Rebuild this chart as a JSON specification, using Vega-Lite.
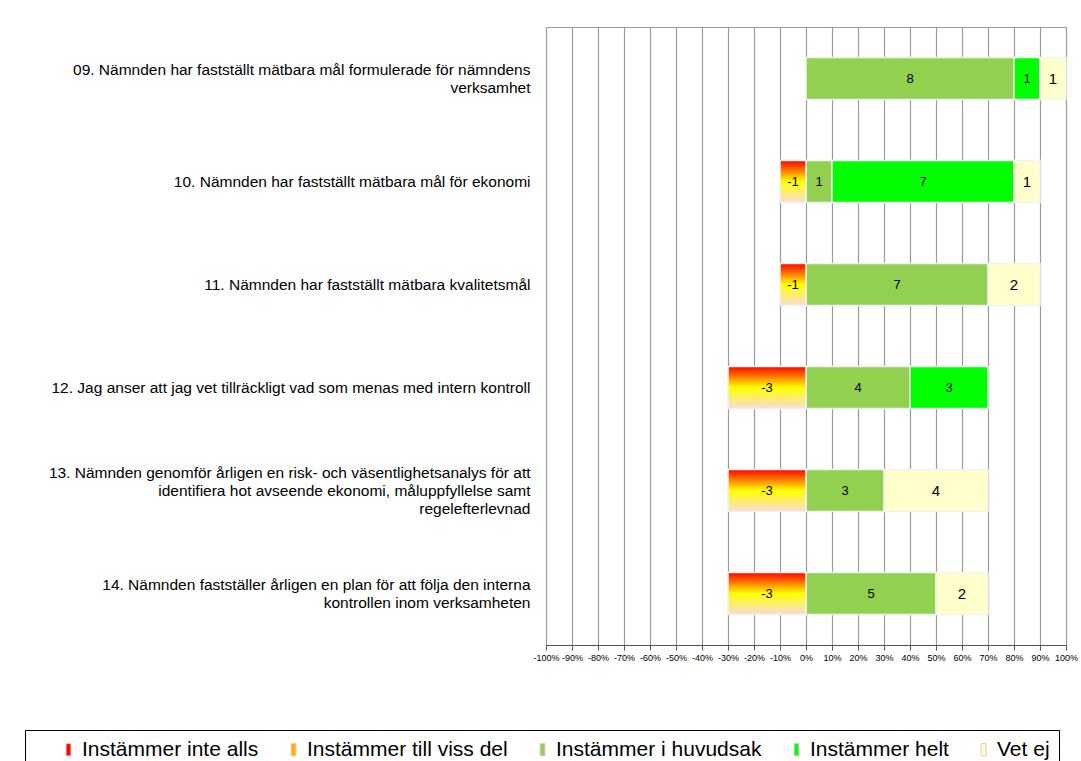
{
  "$schema": "https://vega.github.io/schema/vega-lite/v6.json",
  "width": 520,
  "height": 618,
  "autosize": {"type": "none"},
  "padding": {"left": 546, "top": 27, "right": 15, "bottom": 116},
  "background": "#ffffff",
  "config": {
    "font": "Liberation Sans",
    "view": {"stroke": "#999999", "strokeWidth": 1}
  },
  "data": {
    "values": [
      {"q": "09. Nämnden har fastställt mätbara mål formulerade för nämndens|verksamhet", "cat": "Instämmer i huvudsak", "n": "8", "pct": 80},
      {"q": "09. Nämnden har fastställt mätbara mål formulerade för nämndens|verksamhet", "cat": "Instämmer helt", "n": "1", "pct": 10},
      {"q": "09. Nämnden har fastställt mätbara mål formulerade för nämndens|verksamhet", "cat": "Vet ej", "n": "1", "pct": 10},
      {"q": "10. Nämnden har fastställt mätbara mål för ekonomi", "cat": "Instämmer till viss del", "n": "-1", "pct": -10},
      {"q": "10. Nämnden har fastställt mätbara mål för ekonomi", "cat": "Instämmer i huvudsak", "n": "1", "pct": 10},
      {"q": "10. Nämnden har fastställt mätbara mål för ekonomi", "cat": "Instämmer helt", "n": "7", "pct": 70},
      {"q": "10. Nämnden har fastställt mätbara mål för ekonomi", "cat": "Vet ej", "n": "1", "pct": 10},
      {"q": "11. Nämnden har fastställt mätbara kvalitetsmål", "cat": "Instämmer till viss del", "n": "-1", "pct": -10},
      {"q": "11. Nämnden har fastställt mätbara kvalitetsmål", "cat": "Instämmer i huvudsak", "n": "7", "pct": 70},
      {"q": "11. Nämnden har fastställt mätbara kvalitetsmål", "cat": "Vet ej", "n": "2", "pct": 20},
      {"q": "12. Jag anser att jag vet tillräckligt vad som menas med intern kontroll", "cat": "Instämmer till viss del", "n": "-3", "pct": -30},
      {"q": "12. Jag anser att jag vet tillräckligt vad som menas med intern kontroll", "cat": "Instämmer i huvudsak", "n": "4", "pct": 40},
      {"q": "12. Jag anser att jag vet tillräckligt vad som menas med intern kontroll", "cat": "Instämmer helt", "n": "3", "pct": 30},
      {"q": "13. Nämnden genomför årligen en risk- och väsentlighetsanalys för att|identifiera hot avseende ekonomi, måluppfyllelse samt|regelefterlevnad", "cat": "Instämmer till viss del", "n": "-3", "pct": -30},
      {"q": "13. Nämnden genomför årligen en risk- och väsentlighetsanalys för att|identifiera hot avseende ekonomi, måluppfyllelse samt|regelefterlevnad", "cat": "Instämmer i huvudsak", "n": "3", "pct": 30},
      {"q": "13. Nämnden genomför årligen en risk- och väsentlighetsanalys för att|identifiera hot avseende ekonomi, måluppfyllelse samt|regelefterlevnad", "cat": "Vet ej", "n": "4", "pct": 40},
      {"q": "14. Nämnden fastställer årligen en plan för att följa den interna|kontrollen inom verksamheten", "cat": "Instämmer till viss del", "n": "-3", "pct": -30},
      {"q": "14. Nämnden fastställer årligen en plan för att följa den interna|kontrollen inom verksamheten", "cat": "Instämmer i huvudsak", "n": "5", "pct": 50},
      {"q": "14. Nämnden fastställer årligen en plan för att följa den interna|kontrollen inom verksamheten", "cat": "Vet ej", "n": "2", "pct": 20}
    ]
  },
  "transform": [
    {"calculate": "indexof(['Instämmer inte alls','Instämmer till viss del','Instämmer i huvudsak','Instämmer helt','Vet ej'], datum.cat)", "as": "ord"},
    {"stack": "pct", "groupby": ["q"], "sort": [{"field": "ord", "order": "ascending"}], "as": ["x0", "x1"], "offset": "zero"},
    {"calculate": "(datum.x0 + datum.x1) / 2", "as": "xm"}
  ],
  "resolve": {"axis": {"x": "independent"}},
  "encoding": {
    "y": {
      "field": "q",
      "type": "nominal",
      "sort": null,
      "scale": {"paddingInner": 0.59, "paddingOuter": 0.295},
      "axis": {
        "title": null,
        "domain": false,
        "ticks": false,
        "grid": false,
        "labelExpr": "split(datum.label, '|')",
        "labelAlign": "right",
        "labelBaseline": "middle",
        "labelPadding": 16,
        "labelFontSize": 15.5,
        "labelLineHeight": 18,
        "labelColor": "#000000",
        "labelLimit": 600,
        "labelOffset": {
          "condition": [
            {"test": "length(split(datum.label, '|')) == 3", "value": -18},
            {"test": "length(split(datum.label, '|')) == 2", "value": -9}
          ],
          "value": 0
        }
      }
    }
  },
  "layer": [
    {
      "transform": [{"filter": "datum.cat != 'Instämmer till viss del'"}],
      "mark": {"type": "bar", "stroke": "#f2f2f2", "strokeWidth": 1.5},
      "encoding": {
        "x": {
          "field": "x0",
          "type": "quantitative",
          "scale": {"domain": [-100, 100], "nice": false, "zero": false},
          "axis": {
            "title": null,
            "values": [-100, -90, -80, -70, -60, -50, -40, -30, -20, -10, 0, 10, 20, 30, 40, 50, 60, 70, 80, 90, 100],
            "tickCount": 21,
            "labelExpr": "datum.value + '%'",
            "labelFontSize": 9,
            "labelColor": "#000000",
            "labelPadding": 3,
            "labelOverlap": false,
            "labelFlush": false,
            "labelBound": false,
            "tickSize": 5,
            "tickColor": "#555555",
            "domainColor": "#555555",
            "grid": true,
            "gridColor": "#9a9a9a",
            "gridWidth": 1.2
          }
        },
        "x2": {"field": "x1"},
        "color": {
          "field": "cat",
          "type": "nominal",
          "scale": {
            "domain": ["Instämmer inte alls", "Instämmer till viss del", "Instämmer i huvudsak", "Instämmer helt", "Vet ej"],
            "range": ["#FF0000", "#FFB000", "#92D050", "#00FF00", "#FFFFCC"]
          },
          "legend": {
            "orient": "none",
            "direction": "horizontal",
            "legendX": -521,
            "legendY": 703,
            "title": "\u00a0",
            "titleOrient": "left",
            "titlePadding": 24,
            "titleFontSize": 17,
            "strokeColor": "#000000",
            "fillColor": "#ffffff",
            "padding": 9,
            "symbolType": "M-0.4,-1H0.4V1H-0.4Z",
            "symbolSize": 150,
            "symbolStrokeColor": "#e8c8c8",
            "symbolStrokeWidth": 1,
            "labelFontSize": 21,
            "labelColor": "#000000",
            "labelOffset": 3,
            "columnPadding": 24,
            "labelLimit": 300
          }
        }
      }
    },
    {
      "transform": [{"filter": "datum.cat == 'Instämmer till viss del'"}],
      "mark": {
        "type": "bar",
        "stroke": "#f2f2f2",
        "strokeWidth": 1.5,
        "fill": {
          "gradient": "linear",
          "x1": 0, "y1": 0, "x2": 0, "y2": 1,
          "stops": [
            {"offset": 0, "color": "#FF0000"},
            {"offset": 0.5, "color": "#FFFF00"},
            {"offset": 1, "color": "#F8DCD8"}
          ]
        }
      },
      "encoding": {
        "x": {"field": "x0", "type": "quantitative", "axis": null},
        "x2": {"field": "x1"}
      }
    },
    {
      "mark": {"type": "text", "align": "center", "baseline": "middle", "color": "#000000"},
      "encoding": {
        "x": {"field": "xm", "type": "quantitative", "axis": null},
        "text": {"field": "n", "type": "nominal"},
        "size": {
          "condition": {"test": "datum.cat == 'Vet ej'", "value": 15},
          "value": 13
        }
      }
    }
  ]
}
